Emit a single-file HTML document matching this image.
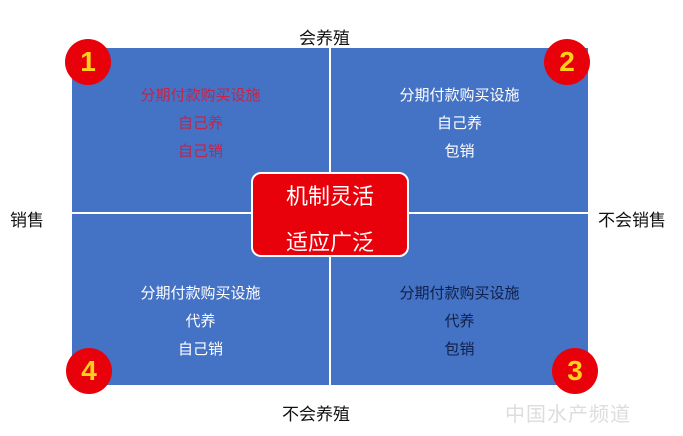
<!DOCTYPE html>
<html><head><meta charset="utf-8"><style>
body{margin:0;width:683px;height:436px;background:#fff;position:relative;overflow:hidden;font-family:"Liberation Sans","Noto Sans CJK SC",sans-serif}
.a{position:absolute}
.q{position:absolute;text-align:center;font-size:15px;line-height:28px}
.b{position:absolute;width:46px;height:46px;border-radius:50%;background:#e8000a;color:#ffd21a;font-weight:bold;font-size:28px;line-height:46px;text-align:center;font-family:"Liberation Sans",sans-serif}
.l{position:absolute;font-size:17px;color:#111}
</style></head><body>
<div class="a" style="left:72px;top:48px;width:516px;height:337px;background:#4472c4"></div>
<div class="a" style="left:72px;top:212px;width:516px;height:2px;background:#fff"></div>
<div class="a" style="left:329px;top:48px;width:2px;height:337px;background:#fff"></div>
<div class="q" style="left:72px;top:82px;width:257px;color:#c3244a">分期付款购买设施<br>自己养<br>自己销</div>
<div class="q" style="left:331px;top:82px;width:257px;color:#fff">分期付款购买设施<br>自己养<br>包销</div>
<div class="q" style="left:72px;top:280px;width:257px;color:#fff">分期付款购买设施<br>代养<br>自己销</div>
<div class="q" style="left:331px;top:280px;width:257px;color:#10204a">分期付款购买设施<br>代养<br>包销</div>
<div class="a" style="left:251px;top:172px;width:154px;height:81px;background:#e8000a;border:2px solid #fff;border-radius:10px;color:#fff;font-size:22px;line-height:46px;text-align:center;padding-top:0px">机制灵活<br>适应广泛</div>
<div class="l" style="left:299px;top:24px">会养殖</div>
<div class="l" style="left:282px;top:400px">不会养殖</div>
<div class="l" style="left:10px;top:206px">销售</div>
<div class="l" style="left:598px;top:206px">不会销售</div>
<div class="b" style="left:65px;top:39px">1</div>
<div class="b" style="left:544px;top:39px">2</div>
<div class="b" style="left:552px;top:348px">3</div>
<div class="b" style="left:66px;top:348px">4</div>
<div class="a" style="left:505px;top:398px;font-size:20px;color:#ddd;letter-spacing:1px">中国水产频道</div>
</body></html>
